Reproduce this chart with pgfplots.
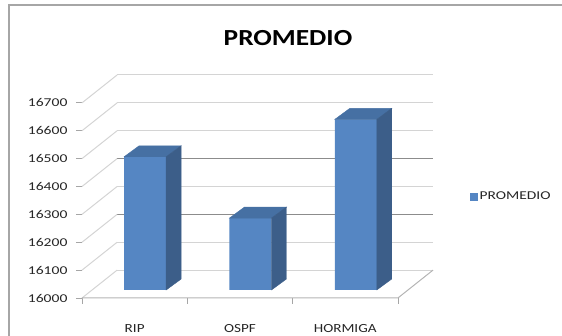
\documentclass[border=0pt]{standalone}
\usepackage{fontspec}
\setmainfont{Carlito}
\usepackage{pgfplots}
\pgfplotsset{compat=1.18}
\usepackage{pgfplotstable}
\definecolor{frontc}{HTML}{5586C3}
\definecolor{sidec}{HTML}{3C5E89}
\definecolor{topc}{HTML}{4670A3}
\definecolor{gridl}{HTML}{D4D4D4}
\definecolor{gridd}{HTML}{8C8C8C}
\definecolor{framec}{HTML}{A6A6A6}
\definecolor{txt}{HTML}{262626}
\pgfplotstableread{
x v
0 16478
1 16258
2 16612
}\datatab
\newcommand{\sx}[2]{\scalebox{#1}[1]{#2}}
\begin{document}
\begin{tikzpicture}
\useasboundingbox (-82pt,-38pt) rectangle (480pt,298pt);
\draw[framec, line width=2pt] (-72.5pt,-38pt) -- (-72.5pt,293pt) -- (480pt,293pt);
\begin{axis}[
  at={(0pt,0pt)}, anchor=south west,
  scale only axis, width=351pt, height=223pt,
  xmin=-0.5, xmax=2.8333, ymin=0, ymax=800,
  clip=false,
  axis x line*=bottom, axis y line*=left,
  axis line style={draw=none},
  tick align=outside,
  major tick length=6pt,
  tick style={draw=framec, line width=0.8pt},
  ytick={0,100,...,700},
  yticklabels={\sx{1.3}{16000},\sx{1.3}{16100},\sx{1.3}{16200},\sx{1.3}{16300},\sx{1.3}{16400},\sx{1.3}{16500},\sx{1.3}{16600},\sx{1.3}{16700}},
  yticklabel style={font=\fontsize{12}{12}\selectfont, text=txt, xshift=-5pt},
  xtick={-0.5,0.5,1.5,2.5},
  xticklabels={},
  extra x ticks={0,1,2},
  extra x tick labels={\sx{1.22}{RIP},\sx{1.22}{OSPF},\sx{1.22}{HORMIGA}},
  extra x tick style={major tick length=0pt, xticklabel style={anchor=base, yshift=-34.5pt, font=\fontsize{12.4}{12.4}\selectfont, text=txt}},
  title={\sx{1.19}{PROMEDIO}},
  title style={at={(0.5869,1.1345)}, anchor=base, yshift=-6pt, font=\fontsize{23}{23}\selectfont\bfseries, text=black},
  legend style={at={(1.1054,0.455)}, anchor=west, draw=none, fill=none, inner sep=0pt,
    font=\fontsize{12}{12}\selectfont, text=txt},
]
% back wall gridlines
\addplot[gridl, line width=1pt, forget plot] coordinates {(-0.1667,100) (2.8333,100)};
\addplot[gridl, line width=1pt, forget plot] coordinates {(-0.1667,200) (2.8333,200)};
\addplot[gridd, line width=1.6pt, forget plot] coordinates {(-0.1667,300) (2.8333,300)};
\addplot[gridl, line width=1pt, forget plot] coordinates {(-0.1667,400) (2.8333,400)};
\addplot[gridd, line width=1.6pt, forget plot] coordinates {(-0.1667,500) (2.8333,500)};
\addplot[gridl, line width=1pt, forget plot] coordinates {(-0.1667,600) (2.8333,600)};
\addplot[gridl, line width=1pt, forget plot] coordinates {(-0.1667,700) (2.8333,700)};
\addplot[gridl, line width=1pt, forget plot] coordinates {(-0.1667,800) (2.8333,800)};
% side wall diagonals
\addplot[gridl, line width=1pt, forget plot] coordinates {(-0.5,0) (-0.1667,100)};
\addplot[gridl, line width=1pt, forget plot] coordinates {(-0.5,100) (-0.1667,200)};
\addplot[gridl, line width=1pt, forget plot] coordinates {(-0.5,200) (-0.1667,300)};
\addplot[gridl, line width=1pt, forget plot] coordinates {(-0.5,300) (-0.1667,400)};
\addplot[gridl, line width=1pt, forget plot] coordinates {(-0.5,400) (-0.1667,500)};
\addplot[gridl, line width=1pt, forget plot] coordinates {(-0.5,500) (-0.1667,600)};
\addplot[gridl, line width=1pt, forget plot] coordinates {(-0.5,600) (-0.1667,700)};
\addplot[gridl, line width=1pt, forget plot] coordinates {(-0.5,700) (-0.1667,800)};
% floor
\addplot[gridl!85!black, line width=1pt, forget plot] coordinates {(-0.5,0) (2.5,0) (2.8333,100)};
% bars: top and side faces
\addplot[scatter, only marks, mark=text, text mark={}, forget plot,
  visualization depends on={\thisrow{v}-16000 \as \hrel},
  scatter/@pre marker code/.code={%
    \pgfmathsetmacro\hh{\hrel*0.27875}%
    \fill[topc] (-10.5pt,8pt) -- (31.5pt,8pt) -- (46.5pt,19pt) -- (4.5pt,19pt) -- cycle;
    \fill[sidec] (31.5pt,8pt) -- (46.5pt,19pt) -- (46.5pt,{19pt-\hh pt}) -- (31.5pt,{8pt-\hh pt}) -- cycle;
  },
  scatter/@post marker code/.code={},
] table[x=x, y expr=\thisrow{v}-16000] {\datatab};
% bars: front faces
\addplot[ybar, bar width=42pt, bar shift=10.5pt, yshift=8pt, fill=frontc, draw=none, forget plot]
  table[x=x, y expr=\thisrow{v}-16000] {\datatab};
\addlegendimage{legend image code/.code={\fill[frontc] (0pt,-3.5pt) rectangle (7pt,3.5pt);}}
\addlegendentry{\sx{1.29}{PROMEDIO}}
\end{axis}
\end{tikzpicture}
\end{document}
